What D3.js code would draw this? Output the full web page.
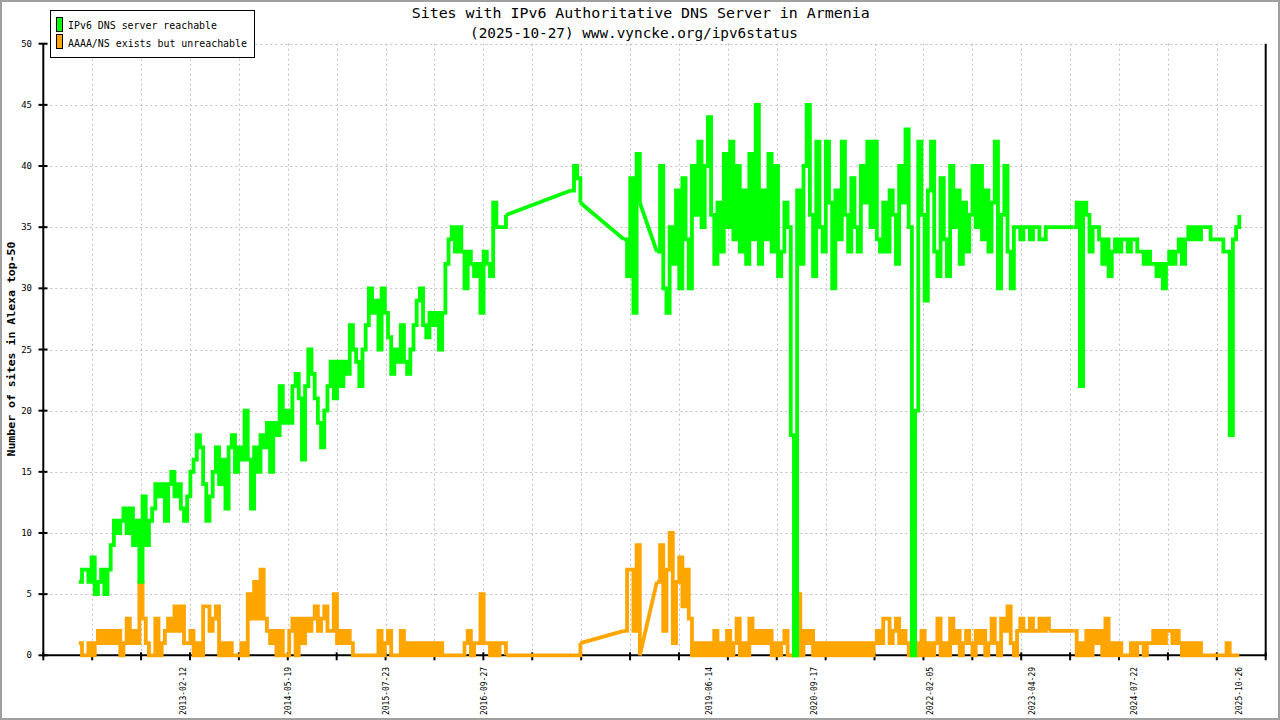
<!DOCTYPE html>
<html>
<head>
<meta charset="utf-8">
<script src="https://cdn.jsdelivr.net/npm/d3@7"></script>
<style>
  body { margin: 0; background: #fff; }
  svg { display: block; }
</style>
</head>
<body>
<svg id="chart" width="1280" height="720"></svg>
<script>
// samples every 14 days; each block starts on its own date, gaps between blocks are joined straight
const sampleStepDays = 14;
const blockStarts = ["2011-11-13", "2017-10-13", "2018-06-03", "2018-10-26", "2023-10-30"];

const reachableA = [
  6,7,7,6,8,5,6,7,5,7, 9,11,10,11,12,10,12,9,11,6, 13,9,11,12,14,13,14,11,14,15,
  13,14,12,11,13,15,16,18,17,14, 11,13,15,17,14,16,12,17,18,15, 17,16,20,16,12,17,15,18,17,19,
  15,19,18,22,19,20,19,22,23,21, 16,22,25,23,21,19,17,20,22,24, 21,24,22,24,23,27,25,24,22,25,
  27,30,28,29,25,30,28,26,23,25, 24,27,24,23,25,27,29,30,27,26, 28,27,28,25,28,32,34,35,33,35,
  33,30,33,32,31,32,28,33,32,31, 37,35,35,35,36
];
const unreachableA = [
  1,0,0,1,0,1,2,1,2,1, 2,1,2,0,1,3,1,2,1,6, 3,1,0,0,3,0,1,2,3,2,
  4,2,4,1,1,2,0,1,0,4, 4,2,3,4,0,1,0,1,0,0, 0,1,0,5,3,6,3,7,3,2,
  1,2,0,2,0,0,2,3,0,3, 1,3,2,3,4,2,3,4,2,2, 5,1,2,1,2,1,0,0,0,0,
  0,0,0,0,2,0,1,2,0,0, 0,2,0,1,0,1,0,1,0,1, 0,1,0,1,0,0,0,0,0,0,
  0,1,2,0,1,1,5,1,1,0, 1,0,1,1,0
];
const reachableB = [38,40,39,37];
const unreachableB = [0,0,0,1];
const reachableC = [34,31,39,28,41,37];
const unreachableC = [2,7,7,2,9,0];
const reachableD = [
  33,40,30,28,35,32,38,30,39,34, 30,40,36,42,35,40,44,36,32,37, 33,41,35,42,34,40,33,38,32,41,
  34,45,32,38,34,41,33,40,31,33, 37,35,18,0,38,32,40,45,36,31, 42,35,33,42,37,30,38,34,42,36,
  33,39,35,33,40,37,42,35,42,34, 33,37,33,38,36,32,40,37,43,35, 0,20,42,36,29,38,42,33,31,39,
  34,31,40,35,38,32,37,33,36,40, 35,40,34,38,33,37,42,30,36,40, 33,30,35,35,34,35,35,34,35,35,
  34,34,35,35
];
const unreachableD = [
  6,9,2,7,10,1,6,8,4,7, 3,0,1,0,1,0,1,0,2,0, 1,0,2,0,1,3,0,1,0,3,
  1,2,1,2,1,2,0,1,0,1, 2,0,0,0,5,0,2,1,2,0, 1,0,1,0,1,0,1,0,1,0,
  1,0,1,0,1,0,1,0,1,2, 1,3,3,1,2,3,1,2,1,0, 0,1,0,2,0,1,0,1,3,0,
  1,0,3,1,2,0,1,2,1,0, 2,1,2,0,1,3,1,0,3,2, 4,1,0,2,3,2,2,3,2,2,
  3,2,3,2
];
const reachableE = [
  35,37,22,37,36,33,35,35,34,32, 34,31,33,34,33,34,34,33,34,34, 33,33,32,33,32,32,31,32,30,32,
  33,32,33,34,32,34,35,34,35,34, 35,35,35,34,34,34,34,33,33,18, 34,35,36
];
const unreachableE = [
  2,0,1,0,2,0,2,1,2,0, 3,0,1,0,1,0,0,0,1,0, 1,1,0,1,1,2,1,2,1,2,
  2,1,2,1,0,1,0,1,0,1, 0,0,0,0,0,0,0,0,1,0, 0,0,0
];

const dateLabels = ["2013-02-12","2014-05-19","2015-07-23","2016-09-27","2019-06-14",
                    "2020-09-17","2022-02-05","2023-04-29","2024-07-22","2025-10-26"];
const yTicks = [0,5,10,15,20,25,30,35,40,45,50];

const parse = d3.utcParse("%Y-%m-%d");
const dayMs = 864e5;

function blocks(lists) {
  return lists.map((vals, b) => {
    const t0 = parse(blockStarts[b]).getTime();
    return vals.map((v, i) => ({ date: new Date(t0 + i * sampleStepDays * dayMs), v: v }));
  });
}
const reachable = blocks([reachableA, reachableB, reachableC, reachableD, reachableE]);
const unreachable = blocks([unreachableA, unreachableB, unreachableC, unreachableD, unreachableE]);

const svg = d3.select("#chart");
const plotLeft = 43.3, plotRight = 1265.7, plotTop = 43.7, plotBottom = 655.3;

const x = d3.scaleUtc()
  .domain([parse("2011-06-10"), parse("2026-02-20")])
  .range([plotLeft, plotRight]);
const y = d3.scaleLinear().domain([0, 50]).range([plotBottom, plotTop]);

// outer frame
svg.append("rect")
  .attr("x", 1).attr("y", 1).attr("width", 1278).attr("height", 718)
  .attr("fill", "#fff").attr("stroke", "#a0a0a0").attr("stroke-width", 2);

// grid
const xd = x.domain().map(d => d.getTime());
const xTicks = d3.range(26).map(k => new Date(xd[0] + k * (xd[1] - xd[0]) / 25));

const grid = svg.append("g")
  .attr("stroke", "#c0c0c0").attr("stroke-width", 1).attr("stroke-dasharray", "2,3");
grid.selectAll(".gy").data(yTicks.slice(1)).join("line")
  .attr("x1", plotLeft + 2).attr("x2", plotRight)
  .attr("y1", d => Math.round(y(d)) + 0.5).attr("y2", d => Math.round(y(d)) + 0.5);
grid.selectAll(".gx").data(xTicks.slice(1, 25)).join("line")
  .attr("x1", d => Math.round(x(d)) + 0.5).attr("x2", d => Math.round(x(d)) + 0.5)
  .attr("y1", plotTop).attr("y2", plotBottom - 2);

// axes
const axes = svg.append("g").attr("stroke", "#000").attr("stroke-width", 2);
axes.append("line").attr("x1", plotLeft).attr("x2", plotLeft).attr("y1", plotTop).attr("y2", plotBottom + 1);
axes.append("line").attr("x1", plotRight).attr("x2", plotRight).attr("y1", plotTop).attr("y2", plotBottom + 1);
axes.append("line").attr("x1", plotLeft).attr("x2", plotRight + 1).attr("y1", plotBottom).attr("y2", plotBottom);

axes.selectAll(".ty").data(yTicks).join("line")
  .attr("x1", 38.5).attr("x2", 47.5)
  .attr("y1", d => y(d)).attr("y2", d => y(d));
axes.selectAll(".tx").data(xTicks).join("line")
  .attr("x1", d => x(d)).attr("x2", d => x(d))
  .attr("y1", plotBottom - 3).attr("y2", plotBottom + 5);

const font = "DejaVu Sans Mono, monospace";

svg.append("g").selectAll("text").data(yTicks).join("text")
  .attr("x", 32).attr("y", d => y(d) + 3)
  .attr("text-anchor", "end")
  .attr("font-family", font).attr("font-size", 9)
  .text(d => d);

svg.append("g").selectAll("text").data(dateLabels).join("text")
  .attr("transform", d => `translate(${x(parse(d)) + 3},667) rotate(-90)`)
  .attr("text-anchor", "end")
  .attr("font-family", font).attr("font-size", 8.5)
  .attr("textLength", 48).attr("lengthAdjust", "spacingAndGlyphs")
  .text(d => d);

// series
const stepLine = d3.line().x(d => x(d.date)).y(d => y(d.v)).curve(d3.curveStepAfter);
const straight = d3.line().x(d => x(d.date)).y(d => y(d.v));

function drawSeries(bl, color) {
  const g = svg.append("g").attr("fill", "none").attr("stroke", color)
    .attr("stroke-width", 3.8).attr("stroke-linejoin", "miter");
  bl.forEach(seg => g.append("path").attr("d", stepLine(seg)));
  for (let b = 0; b < bl.length - 1; b++) {
    g.append("path").attr("d", straight([bl[b][bl[b].length - 1], bl[b + 1][0]]));
  }
}
drawSeries(unreachable, "#ffa500");
drawSeries(reachable, "#00ff00");

// title
svg.append("text").attr("x", 411.7).attr("y", 18.3)
  .attr("font-family", font).attr("font-size", 14)
  .attr("textLength", 458).attr("lengthAdjust", "spacingAndGlyphs")
  .text("Sites with IPv6 Authoritative DNS Server in Armenia");
svg.append("text").attr("x", 470).attr("y", 37.7)
  .attr("font-family", font).attr("font-size", 14)
  .attr("textLength", 328).attr("lengthAdjust", "spacingAndGlyphs")
  .text("(2025-10-27) www.vyncke.org/ipv6status");

// y axis title
svg.append("text")
  .attr("transform", "translate(15,349) rotate(-90)")
  .attr("text-anchor", "middle")
  .attr("font-family", font).attr("font-size", 11).attr("font-weight", "bold")
  .attr("textLength", 215).attr("lengthAdjust", "spacingAndGlyphs")
  .text("Number of sites in Alexa top-50");

// legend
const legend = svg.append("g");
legend.append("rect").attr("x", 50.5).attr("y", 10.5).attr("width", 204).attr("height", 47)
  .attr("fill", "#fff").attr("stroke", "#000").attr("stroke-width", 1);
const items = [
  { label: "IPv6 DNS server reachable", color: "#00ff00", len: 149 },
  { label: "AAAA/NS exists but unreachable", color: "#ffa500", len: 179 }
];
items.forEach((it, i) => {
  legend.append("rect").attr("x", 56.5).attr("y", 17.5 + i * 17).attr("width", 6).attr("height", 14)
    .attr("fill", it.color).attr("stroke", "#000").attr("stroke-width", 1);
  legend.append("text").attr("x", 68).attr("y", 29.3 + i * 17.5)
    .attr("font-family", font).attr("font-size", 10.5)
    .attr("textLength", it.len).attr("lengthAdjust", "spacingAndGlyphs")
    .text(it.label);
});
</script>
</body>
</html>
